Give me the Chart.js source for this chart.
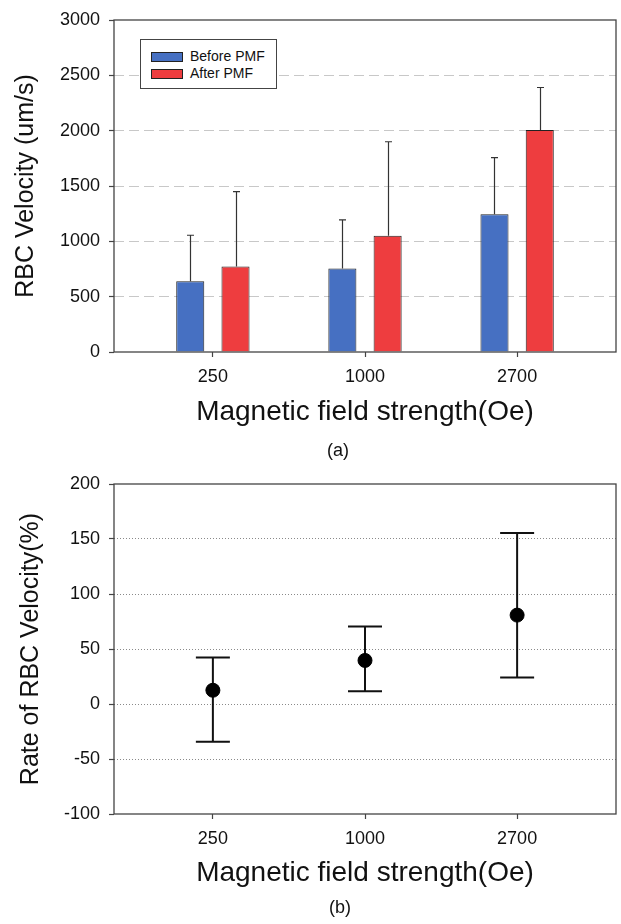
<!DOCTYPE html>
<html>
<head>
<meta charset="utf-8">
<script src="https://cdn.jsdelivr.net/npm/chart.js@4.4.1/dist/chart.umd.min.js"></script>
<style>
  body { margin: 0; background: #fff; font-family: Arial, "Liberation Sans", sans-serif; color: #111; }
  #wrap { position: relative; width: 621px; height: 924px; overflow: hidden; }
  canvas { position: absolute; left: 0; }
  #velocityChart { top: 0; }
  #rateChart { top: 460px; }
  .caption { position: absolute; font-size: 18px; transform: translate(-50%, -50%); }
  #legend { position: absolute; left: 140px; top: 39px; width: 137px; height: 50px;
            border: 1px solid #444; background: #fff; padding-top: 8px; box-sizing: border-box; }
  #legend .item { height: 17px; line-height: 17px; font-size: 14px; white-space: nowrap; }
  #legend .sw { display: inline-block; width: 32px; height: 10px; margin: 0 7px 0 10px;
                border: 1px solid #222; box-sizing: border-box; vertical-align: -1px; }
</style>
</head>
<body>
<div id="wrap">
  <canvas id="velocityChart" width="621" height="460"></canvas>
  <canvas id="rateChart" width="621" height="464"></canvas>
  <div id="legend"></div>
  <div class="caption" style="left:338px; top:450px;">(a)</div>
  <div class="caption" style="left:340px; top:907px;">(b)</div>
</div>
<script>
// values
const categories = ['250', '1000', '2700'];
const beforePMF = [640, 755, 1245];
const beforeSD = [415, 438, 512];
const afterPMF = [772, 1050, 2005];
const afterSD = [678, 850, 385];
const velocityTicks = [0, 500, 1000, 1500, 2000, 2500, 3000];

const rateMean = [12.5, 39.6, 80.8];
const rateLow = [-34.3, 11.5, 24.2];
const rateHigh = [42.2, 70.5, 155.4];
const rateTicks = [-100, -50, 0, 50, 100, 150, 200];

const FONT = 'Arial, "Liberation Sans", sans-serif';

// box around the plot area
const frame = {
  id: 'frame',
  afterDraw(chart) {
    const { ctx, chartArea: a } = chart;
    ctx.save();
    ctx.strokeStyle = '#444';
    ctx.lineWidth = 1.3;
    ctx.strokeRect(a.left, a.top, a.right - a.left, a.bottom - a.top);
    ctx.restore();
  }
};

// one-sided SD bars on top of each bar
const barErrors = {
  id: 'barErrors',
  afterDatasetsDraw(chart) {
    const ctx = chart.ctx;
    const y = chart.scales.y;
    ctx.save();
    ctx.strokeStyle = '#333';
    ctx.lineWidth = 1.2;
    chart.data.datasets.forEach((ds, i) => {
      chart.getDatasetMeta(i).data.forEach((bar, j) => {
        const top = y.getPixelForValue(ds.data[j].y + ds.sd[j]);
        const x = Math.round(bar.x) + 0.5;
        ctx.beginPath();
        ctx.moveTo(x, bar.y);
        ctx.lineTo(x, top);
        ctx.moveTo(x - 3.5, top);
        ctx.lineTo(x + 3.5, top);
        ctx.stroke();
      });
    });
    ctx.restore();
  }
};

// low/high range bars behind the points
const rangeBars = {
  id: 'rangeBars',
  beforeDatasetsDraw(chart) {
    const ctx = chart.ctx;
    const { x, y } = chart.scales;
    ctx.save();
    ctx.strokeStyle = '#111';
    ctx.lineWidth = 2;
    rateMean.forEach((v, i) => {
      const px = x.getPixelForValue(i);
      const lo = y.getPixelForValue(rateLow[i]);
      const hi = y.getPixelForValue(rateHigh[i]);
      ctx.beginPath();
      ctx.moveTo(px, lo);
      ctx.lineTo(px, hi);
      ctx.moveTo(px - 17, lo);
      ctx.lineTo(px + 17, lo);
      ctx.moveTo(px - 17, hi);
      ctx.lineTo(px + 17, hi);
      ctx.stroke();
    });
    ctx.restore();
  }
};

function categoryAxis(height, titleBottom) {
  return {
    type: 'linear',
    min: -0.65,
    max: 2.65,
    offset: false,
    afterBuildTicks: scale => { scale.ticks = categories.map((c, i) => ({ value: i })); },
    afterFit: scale => { scale.height = height; },
    border: { display: false },
    grid: { offset: false, drawOnChartArea: false, drawTicks: true, tickLength: 5, tickColor: '#444', tickWidth: 1.2 },
    ticks: { padding: 9, color: '#111', font: { family: FONT, size: 18 }, callback: v => categories[v] },
    title: {
      display: true,
      text: 'Magnetic field strength(Oe)',
      color: '#111',
      font: { family: FONT, size: 28 },
      padding: { top: 0, bottom: titleBottom }
    }
  };
}

function valueAxis(tickList, titleText, titlePad, gridColor, dash) {
  const first = tickList[0];
  const last = tickList[tickList.length - 1];
  return {
    min: first,
    max: last,
    afterBuildTicks: scale => { scale.ticks = tickList.map(v => ({ value: v })); },
    afterFit: scale => { scale.width = 114; },
    border: { display: false, dash: dash },
    grid: {
      color: c => (c.tick && (c.tick.value === first || c.tick.value === last)) ? 'rgba(0,0,0,0)' : gridColor,
      tickColor: '#444',
      tickWidth: 1.2,
      tickLength: 5,
      tickBorderDash: []
    },
    ticks: { padding: 9, color: '#111', font: { family: FONT, size: 18 }, callback: v => String(v) },
    title: {
      display: true,
      text: titleText,
      color: '#111',
      font: { family: FONT, size: 25 },
      padding: { top: titlePad, bottom: 0 }
    }
  };
}

const velocityChart = new Chart(document.getElementById('velocityChart'), {
  type: 'bar',
  data: {
    datasets: [
      {
        label: 'Before PMF',
        data: beforePMF.map((v, i) => ({ x: i, y: v })),
        sd: beforeSD,
        backgroundColor: '#4670c2',
        borderColor: '#222',
        borderWidth: 1
      },
      {
        label: 'After PMF',
        data: afterPMF.map((v, i) => ({ x: i, y: v })),
        sd: afterSD,
        backgroundColor: '#ee3d3f',
        borderColor: '#222',
        borderWidth: 1
      }
    ]
  },
  options: {
    responsive: false,
    animation: false,
    events: [],
    categoryPercentage: 0.595,
    barPercentage: 0.62,
    layout: { autoPadding: false, padding: { left: 0, right: 5, top: 20, bottom: 0 } },
    plugins: { legend: { display: false }, tooltip: { enabled: false } },
    scales: {
      x: categoryAxis(108, 31),
      y: valueAxis(velocityTicks, 'RBC Velocity (um/s)', 11, '#c8c8c8', [10, 5])
    }
  },
  plugins: [barErrors, frame]
});

new Chart(document.getElementById('rateChart'), {
  type: 'scatter',
  data: {
    datasets: [{
      label: 'Rate of RBC Velocity',
      data: rateMean.map((v, i) => ({ x: i, y: v })),
      backgroundColor: '#000',
      borderColor: '#000',
      pointRadius: 7
    }]
  },
  options: {
    responsive: false,
    animation: false,
    events: [],
    layout: { autoPadding: false, padding: { left: 0, right: 5, top: 24, bottom: 0 } },
    plugins: { legend: { display: false }, tooltip: { enabled: false } },
    scales: {
      x: categoryAxis(110, 34),
      y: valueAxis(rateTicks, 'Rate of RBC Velocity(%)', 16, '#8a8a8a', [1, 2])
    }
  },
  plugins: [rangeBars, frame]
});

// legend box from the bar datasets
const legend = document.getElementById('legend');
velocityChart.data.datasets.forEach(ds => {
  const row = document.createElement('div');
  row.className = 'item';
  const sw = document.createElement('span');
  sw.className = 'sw';
  sw.style.background = ds.backgroundColor;
  row.appendChild(sw);
  row.appendChild(document.createTextNode(ds.label));
  legend.appendChild(row);
});
</script>
</body>
</html>
